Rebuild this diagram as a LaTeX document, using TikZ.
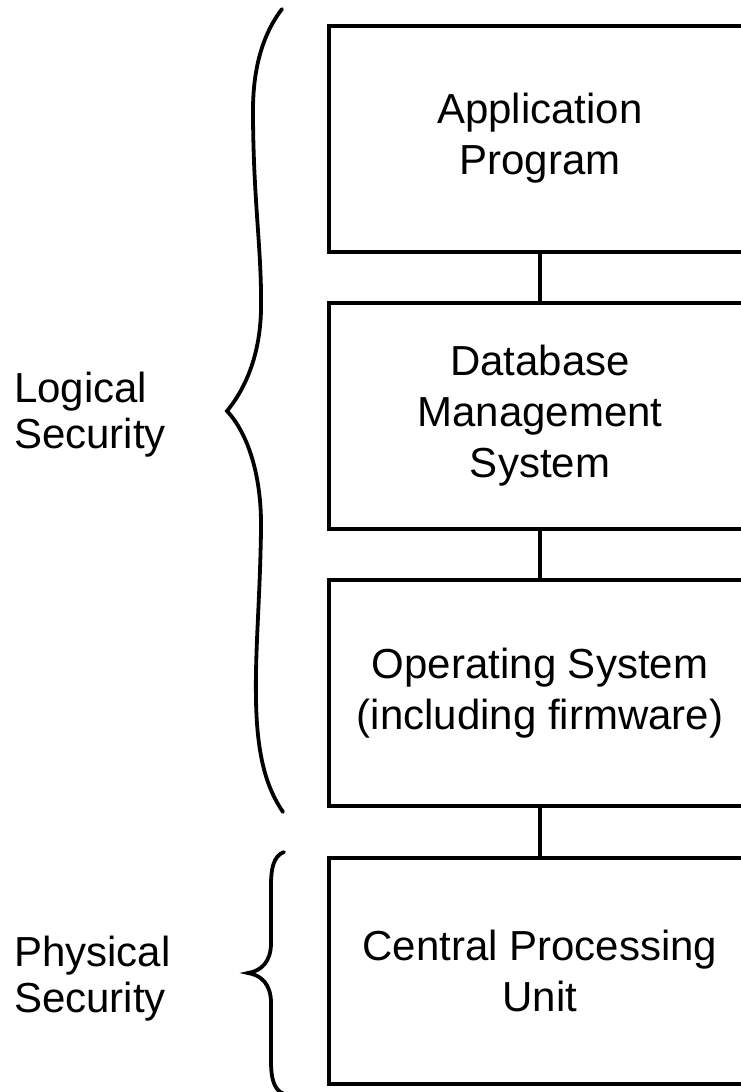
\documentclass[tikz,border=0pt]{standalone}
\usepackage{fontspec}
\setmainfont{Liberation Sans}
\begin{document}
\begin{tikzpicture}[x=1pt,y=-1pt,
  layerbox/.style={draw=black,line width=4pt,minimum width=422pt,minimum height=226pt,
    align=center,inner sep=0pt,font=\fontsize{42pt}{51pt}\selectfont},
  sidelabel/.style={anchor=west,align=left,inner sep=0pt,font=\fontsize{42pt}{46pt}\selectfont},
  link/.style={line width=4pt},
  bracepath/.style={line width=3.8pt,line cap=round,line join=miter}]
\useasboundingbox (0,0) rectangle (741,1092);
\clip (0,0) rectangle (741,1092);
\fill[white] (0,0) rectangle (741,1092);

\node[layerbox] (app) at (540,138.5) {Application\\Program};
\node[layerbox] (dbms) at (540,415.5) {Database\\Management\\System};
\node[layerbox] (os) at (540,693) {Operating System\\(including firmware)};
\node[layerbox] (cpu) at (540,971) {Central Processing\\Unit};

\draw[link] (app.south) -- (dbms.north);
\draw[link] (dbms.south) -- (os.north);
\draw[link] (os.south) -- (cpu.north);

% logical security brace
\coordinate (ltop) at (282,9);
\coordinate (ltip) at (227,411);
\coordinate (lbot) at (283,812);
\draw[bracepath] (ltop) .. controls (262,35) and (253,70) .. (253,110)
  .. controls (253,200) and (262,250) .. (261,310)
  .. controls (260,360) and (242,393) .. (ltip)
  .. controls (245,430) and (262,470) .. (261,530)
  .. controls (260,600) and (255,650) .. (256,700)
  .. controls (257,760) and (268,790) .. (lbot);

% physical security brace
\coordinate (ptop) at (284,852);
\coordinate (ptip) at (248,973);
\coordinate (pbot) at (284,1094);
\draw[bracepath] (ptop) .. controls (273,856) and (271,870) .. (271,885)
  -- (271,943) .. controls (271,962) and (261,971) .. (ptip)
  .. controls (261,975) and (271,984) .. (271,1003)
  -- (271,1061) .. controls (271,1076) and (273,1090) .. (pbot);

\node[sidelabel] (logical) at (14,415) {Logical\\Security};
\node[sidelabel] (physical) at (14,979) {Physical\\Security};
\end{tikzpicture}
\end{document}
